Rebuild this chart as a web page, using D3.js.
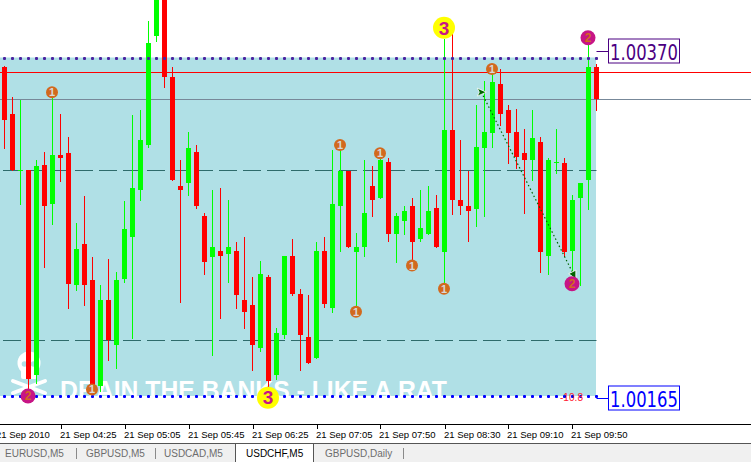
<!DOCTYPE html>
<html><head><meta charset="utf-8">
<script src="https://cdn.jsdelivr.net/npm/d3@7"></script>
<style>html,body{margin:0;padding:0;background:#fff;overflow:hidden}svg{display:block}</style>
</head><body>
<svg id="chart" width="751" height="462"></svg>
<script>
// ---- data (USDCHF, M5) ----
const opens = [1.00364,1.00336,1.00301,1.00302,1.00178,1.00305,1.00281,1.00311,1.00312,1.00232,
1.00257,1.00235,1.00171,1.00223,1.00196,1.00236,1.00261,1.00290,1.00317,1.00383,
1.00407,1.00358,1.00292,1.00294,1.00313,1.00274,1.00249,1.00253,1.00251,1.00253,
1.00223,1.00220,1.00194,1.00237,1.00178,1.00202,1.00250,1.00227,1.00201,1.00188,
1.00253,1.00218,1.00280,1.00301,1.00252,1.00255,1.00292,1.00285,1.00307,1.00263,
1.00271,1.00280,1.00260,1.00263,1.00279,1.00252,1.00326,1.00284,1.00280,1.00278,
1.00315,1.00324,1.00354,1.00338,1.00325,1.00312,1.00308,1.00319,1.00250,1.00307,
1.00306,1.00253,1.00285,1.00296,1.00364];
const highs = [1.00365,1.00346,1.00344,1.00302,1.00308,1.00313,1.00346,1.00336,1.00322,1.00270,
1.00286,1.00249,1.00232,1.00248,1.00240,1.00283,1.00335,1.00338,1.00392,1.00412,
1.00415,1.00364,1.00308,1.00325,1.00317,1.00276,1.00290,1.00291,1.00284,1.00258,
1.00261,1.00237,1.00247,1.00238,1.00206,1.00250,1.00260,1.00230,1.00226,1.00258,
1.00261,1.00314,1.00316,1.00301,1.00264,1.00308,1.00304,1.00313,1.00309,1.00276,
1.00280,1.00285,1.00290,1.00292,1.00287,1.00381,1.00384,1.00320,1.00301,1.00341,
1.00356,1.00363,1.00363,1.00341,1.00339,1.00327,1.00338,1.00322,1.00309,1.00327,
1.00309,1.00287,1.00294,1.00378,1.00366];
const lows = [1.00315,1.00302,1.00281,1.00168,1.00173,1.00243,1.00269,1.00295,1.00218,1.00229,
1.00220,1.00167,1.00168,1.00187,1.00182,1.00234,1.00200,1.00284,1.00316,1.00380,
1.00352,1.00296,1.00222,1.00287,1.00279,1.00239,1.00190,1.00212,1.00234,1.00218,
1.00206,1.00181,1.00192,1.00170,1.00175,1.00200,1.00226,1.00181,1.00185,1.00188,
1.00219,1.00216,1.00253,1.00255,1.00220,1.00250,1.00274,1.00285,1.00259,1.00246,
1.00263,1.00247,1.00259,1.00263,1.00255,1.00233,1.00275,1.00275,1.00259,1.00268,
1.00274,1.00316,1.00329,1.00306,1.00303,1.00276,1.00296,1.00240,1.00239,1.00300,
1.00250,1.00238,1.00232,1.00278,1.00338];
const closes = [1.00332,1.00302,1.00302,1.00175,1.00304,1.00280,1.00311,1.00309,1.00233,1.00254,
1.00232,1.00170,1.00223,1.00199,1.00235,1.00266,1.00291,1.00320,1.00379,1.00408,
1.00358,1.00296,1.00290,1.00315,1.00280,1.00246,1.00255,1.00250,1.00255,1.00226,
1.00216,1.00196,1.00239,1.00174,1.00203,1.00250,1.00227,1.00202,1.00185,1.00253,
1.00221,1.00281,1.00301,1.00255,1.00255,1.00276,1.00284,1.00308,1.00263,1.00274,
1.00277,1.00258,1.00267,1.00277,1.00255,1.00326,1.00284,1.00280,1.00277,1.00316,
1.00325,1.00355,1.00336,1.00324,1.00310,1.00308,1.00321,1.00252,1.00308,1.00307,
1.00252,1.00284,1.00294,1.00364,1.00345];

const timeLabelIdx = [-1, 7, 15, 23, 31, 39, 47, 55, 63, 71];
const timeLabels = ["21 Sep 2010","21 Sep 04:25","21 Sep 05:05","21 Sep 05:45","21 Sep 06:25",
                    "21 Sep 07:05","21 Sep 07:50","21 Sep 08:30","21 Sep 09:10","21 Sep 09:50"];

const rangeHigh = 1.00370, rangeLow = 1.00165;
const dashedLevels = [1.00302, 1.00199];
const redLevel = 1.00361;
const bidLevel = 1.00345;
const rangeLabel = "-10.8";

const m1Idx = [6, 11, 42, 44, 47, 51, 55, 61];
const m1Price = [1.00349, 1.00169, 1.00317, 1.00216, 1.00312, 1.00244, 1.00230, 1.00363];
const m2Idx = [3, 71, 73];
const m2Price = [1.00165, 1.00233, 1.00382];
const m3Idx = [55, 33];
const m3Price = [1.00388, 1.00164];

const arrowIdx = [59.6, 71.2];
const arrowPrice = [1.00349, 1.00238];

const tabNames = ["EURUSD,M5","GBPUSD,M5","USDCAD,M5","USDCHF,M5","GBPUSD,Daily"];
const activeTab = 3;
const watermarkText = "DRAIN THE BANKS - LIKE A RAT";

// ---- drawing ----
const svg = d3.select("#chart");
const x = d3.scaleLinear().domain([0, 74]).range([4.5, 596.5]);
const y = d3.scaleLinear().domain([rangeLow, rangeHigh]).range([396, 57.5]);
const candles = opens.map((o, i) => ({i, o, h: highs[i], l: lows[i], c: closes[i]}));

svg.append("defs").append("clipPath").attr("id", "plot")
  .append("rect").attr("x", 0).attr("y", 0).attr("width", 751).attr("height", 424);
const plot = svg.append("g").attr("clip-path", "url(#plot)");

// range rectangle
plot.append("rect").attr("x", 0).attr("y", y(rangeHigh))
  .attr("width", x(74) - 0.5).attr("height", y(rangeLow) - y(rangeHigh))
  .attr("fill", "#b0e0e6");

// dashed levels
plot.selectAll(".dl").data(dashedLevels).join("line")
  .attr("x1", 3).attr("x2", x(74)).attr("y1", d => Math.round(y(d)) + 0.5).attr("y2", d => Math.round(y(d)) + 0.5)
  .attr("stroke", "#2e6b6b").attr("stroke-width", 1).attr("stroke-dasharray", "18,6");

// watermark (skull + text)
const wm = plot.append("g");
wm.append("text").attr("x", 60).attr("y", 399).text(watermarkText)
  .attr("font-family", "Liberation Sans, Arial, sans-serif").attr("font-weight", "bold")
  .attr("font-size", 26).attr("textLength", 387).attr("lengthAdjust", "spacingAndGlyphs")
  .attr("fill", "#ffffff");
wm.append("circle").attr("cx", 29).attr("cy", 363).attr("r", 11.5).attr("fill", "#fff");
wm.append("rect").attr("x", 21).attr("y", 366).attr("width", 16).attr("height", 13).attr("rx", 2).attr("fill", "#fff");
wm.append("circle").attr("cx", 24.5).attr("cy", 364).attr("r", 2.8).attr("fill", "#b0e0e6");
wm.append("circle").attr("cx", 33.5).attr("cy", 364).attr("r", 2.8).attr("fill", "#b0e0e6");
wm.append("line").attr("x1", 13).attr("y1", 381).attr("x2", 45).attr("y2", 393)
  .attr("stroke", "#fff").attr("stroke-width", 4).attr("stroke-linecap", "round");
wm.append("line").attr("x1", 13).attr("y1", 393).attr("x2", 45).attr("y2", 381)
  .attr("stroke", "#fff").attr("stroke-width", 4).attr("stroke-linecap", "round");

// horizontal lines
plot.append("line").attr("x1", 0).attr("x2", 751)
  .attr("y1", Math.round(y(redLevel)) + 0.5).attr("y2", Math.round(y(redLevel)) + 0.5)
  .attr("stroke", "#ff0000");
plot.append("line").attr("x1", 0).attr("x2", 751)
  .attr("y1", Math.round(y(bidLevel)) + 0.5).attr("y2", Math.round(y(bidLevel)) + 0.5)
  .attr("stroke", "#778899");

// candles
const col = d => d.c >= d.o ? "#00ff00" : "#ff0000";
const cg = plot.append("g");
cg.selectAll(".wick").data(candles).join("line")
  .attr("x1", d => x(d.i)).attr("x2", d => x(d.i))
  .attr("y1", d => Math.round(y(d.h))).attr("y2", d => Math.round(y(d.l)) + 1)
  .attr("stroke", col).attr("stroke-width", 1);
cg.selectAll(".body").data(candles).join("rect")
  .attr("x", d => x(d.i) - 2.5).attr("width", 5)
  .attr("y", d => Math.round(y(Math.max(d.o, d.c))))
  .attr("height", d => Math.max(1, Math.round(y(Math.min(d.o, d.c))) - Math.round(y(Math.max(d.o, d.c)))))
  .attr("fill", col);

// dotted range lines
const idxs = d3.range(0, 75);
plot.selectAll(".dt").data(idxs).join("rect")
  .attr("x", i => x(i) - 1.5).attr("y", Math.round(y(rangeHigh)) - 1).attr("width", 3).attr("height", 3)
  .attr("rx", 1).attr("fill", "#4a23a0");
plot.selectAll(".db").data(idxs).join("rect")
  .attr("x", i => x(i) - 1.5).attr("y", Math.round(y(rangeLow)) - 1).attr("width", 3).attr("height", 3)
  .attr("rx", 1).attr("fill", "#0000ff");

plot.append("text").attr("x", 560).attr("y", 401).text(rangeLabel)
  .attr("font-family", "Liberation Sans, Arial, sans-serif").attr("font-size", 10)
  .attr("textLength", 23).attr("lengthAdjust", "spacingAndGlyphs").attr("fill", "#ff2030");

// price labels
function priceLabel(p, ly, color) {
  plot.append("line").attr("x1", x(74)).attr("x2", 608).attr("y1", ly).attr("y2", ly).attr("stroke", color);
  plot.append("rect").attr("x", 608.5).attr("y", ly - 12.5).attr("width", 71).attr("height", 24)
    .attr("fill", "#fff").attr("stroke", color);
  plot.append("text").attr("x", 610).attr("y", ly + 8.5).text(d3.format(".5f")(p))
    .attr("font-family", "DejaVu Sans, Liberation Sans, sans-serif").attr("font-size", 22)
    .attr("textLength", 68).attr("lengthAdjust", "spacingAndGlyphs").attr("fill", color);
}
priceLabel(rangeHigh, Math.round(y(rangeHigh)) - 6.5, "#4b0082");
priceLabel(rangeLow, Math.round(y(rangeLow)) + 2.5, "#0000ff");

// arrow
const ax0 = x(arrowIdx[0]), ay0 = y(arrowPrice[0]), ax1 = x(arrowIdx[1]), ay1 = y(arrowPrice[1]);
plot.append("line").attr("x1", ax0).attr("y1", ay0).attr("x2", ax1).attr("y2", ay1)
  .attr("stroke", "#006400").attr("stroke-width", 1.2).attr("stroke-dasharray", "1.5,2.5");
const ang = Math.atan2(ay1 - ay0, ax1 - ax0) * 180 / Math.PI;
plot.append("path").attr("d", "M5,0 L-4,-4 L-2,0 L-4,4 Z")
  .attr("transform", `translate(${ax0},${ay0}) rotate(0)`)
  .attr("fill", "#006400").attr("stroke", "#fff").attr("stroke-width", 0.8);
plot.append("path").attr("d", "M4,0 L-4,-4 L-4,4 Z")
  .attr("transform", `translate(${ax1},${ay1}) rotate(${ang})`)
  .attr("fill", "#006400").attr("stroke", "#fff").attr("stroke-width", 0.8);

// markers
function markers(idx, prices, r, fill, label, tcol, fs) {
  const g = plot.append("g");
  idx.forEach((i, k) => {
    const cx = x(i) - 0.5, cy = y(prices[k]);
    g.append("circle").attr("cx", cx).attr("cy", cy).attr("r", r).attr("fill", fill);
    g.append("text").attr("x", cx).attr("y", cy + fs * 0.36).attr("text-anchor", "middle")
      .attr("font-family", "Liberation Sans, Arial, sans-serif").attr("font-weight", "bold")
      .attr("font-size", fs).attr("fill", tcol).text(label);
  });
}
markers(m1Idx, m1Price, 6, "#d2691e", "1", "#d8d8d8", 11);
markers(m2Idx, m2Price, 7.5, "#c71585", "2", "#d2691e", 12);
markers(m3Idx, m3Price, 11, "#ffff00", "3", "#c71585", 19);

// time axis
svg.append("line").attr("x1", 0).attr("x2", 751).attr("y1", 424.5).attr("y2", 424.5).attr("stroke", "#000");
const tg = svg.append("g");
timeLabelIdx.forEach((i, k) => {
  const tx = Math.round(x(i)) + 0.5;
  tg.append("line").attr("x1", tx).attr("x2", tx).attr("y1", 424).attr("y2", 429).attr("stroke", "#000");
  tg.append("text").attr("x", tx - 1.5).attr("y", 437.5).text(timeLabels[k])
    .attr("font-family", "Liberation Sans, Arial, sans-serif").attr("font-size", 9.5).attr("fill", "#000");
});

// tabs
svg.append("rect").attr("x", 0).attr("y", 444).attr("width", 751).attr("height", 18).attr("fill", "#f0f0f0");
svg.append("line").attr("x1", 0).attr("x2", 751).attr("y1", 443.5).attr("y2", 443.5).attr("stroke", "#555");
const tabX = [5, 86, 164, 246, 325];
const sepX = [76.5, 155.5, 403.5];
svg.append("rect").attr("x", 235.5).attr("y", 443.5).attr("width", 78).attr("height", 20)
  .attr("fill", "#fff").attr("stroke", "#555");
tabNames.forEach((t, k) => {
  svg.append("text").attr("x", tabX[k]).attr("y", 457).text(t)
    .attr("font-family", "Liberation Sans, Arial, sans-serif").attr("font-size", 10)
    .attr("fill", k === activeTab ? "#000" : "#6d6d6d");
});
sepX.forEach(sx => svg.append("line").attr("x1", sx).attr("x2", sx).attr("y1", 448).attr("y2", 459).attr("stroke", "#8a8a8a"));
</script>
</body></html>
